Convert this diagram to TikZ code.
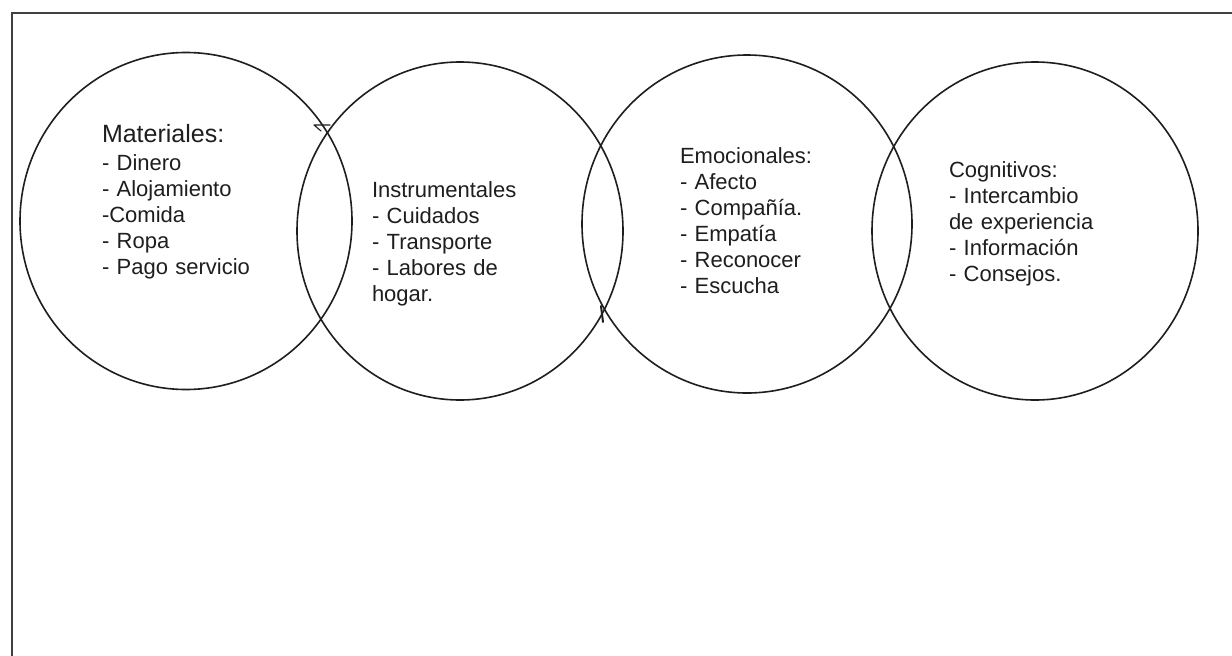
\documentclass[tikz,border=0pt]{standalone}
\usepackage{fontspec}
\setmainfont{Liberation Sans}
\usetikzlibrary{shapes.geometric}
\definecolor{ink}{HTML}{1E1E1E}
\tikzset{
  frameline/.style={draw=ink!85, line width=1.3pt},
  setring/.style={draw=ink, ellipse, line width=1.6pt, inner sep=0pt, outer sep=0pt},
  blocktext/.style={anchor=base west, inner sep=0pt, outer sep=0pt, text width=240pt, align=left, text=ink,
    font=\fontsize{22}{26}\selectfont},
  scribble/.style={draw=ink, line width=1.4pt, line cap=round}
}
\begin{document}
\begin{tikzpicture}[x=1pt,y=-1pt]
\useasboundingbox (0,0) rectangle (1232,656);
\fill[white] (0,0) rectangle (1232,656);
% frame (only top and left edges visible)
\coordinate (ftl) at (12,13);
\coordinate (ftr) at (1232,13);
\coordinate (fbl) at (12,656);
\draw[frameline] (ftr) -- (ftl) -- (fbl);
% four overlapping rings
\node[setring, minimum width=332pt, minimum height=337pt] (c1) at (186,221) {};
\node[setring, minimum width=326pt, minimum height=338pt] (c2) at (460,231) {};
\node[setring, minimum width=330pt, minimum height=338pt] (c3) at (747,224) {};
\node[setring, minimum width=326pt, minimum height=338pt] (c4) at (1035,231) {};
% small pen marks at intersections
\coordinate (m1a) at (314,125);
\coordinate (m1b) at (330,125);
\coordinate (m1c) at (321,131);
\draw[scribble, line width=1.1pt] (m1a) -- (m1b) (m1a) -- (m1c);
\coordinate (m2a) at (601,306);
\coordinate (m2b) at (603,322);
\draw[scribble, line width=2pt] (m2a) -- (m2b);
% texts
\node[blocktext] (t1) at (102,142) {{\fontsize{25}{28}\selectfont Materiales:}\\[2pt]
- Dinero\\
- Alojamiento\\
-Comida\\
- Ropa\\
- Pago servicio};
\node[blocktext] (t2) at (372,197) {Instrumentales\\
- Cuidados\\
- Transporte\\
- Labores de\\
hogar.};
\node[blocktext] (t3) at (680,163) {Emocionales:\\
- Afecto\\
- Compañía.\\
- Empatía\\
- Reconocer\\
- Escucha};
\node[blocktext] (t4) at (949,177) {Cognitivos:\\
- Intercambio\\
de experiencia\\
- Información\\
- Consejos.};
\end{tikzpicture}
\end{document}
